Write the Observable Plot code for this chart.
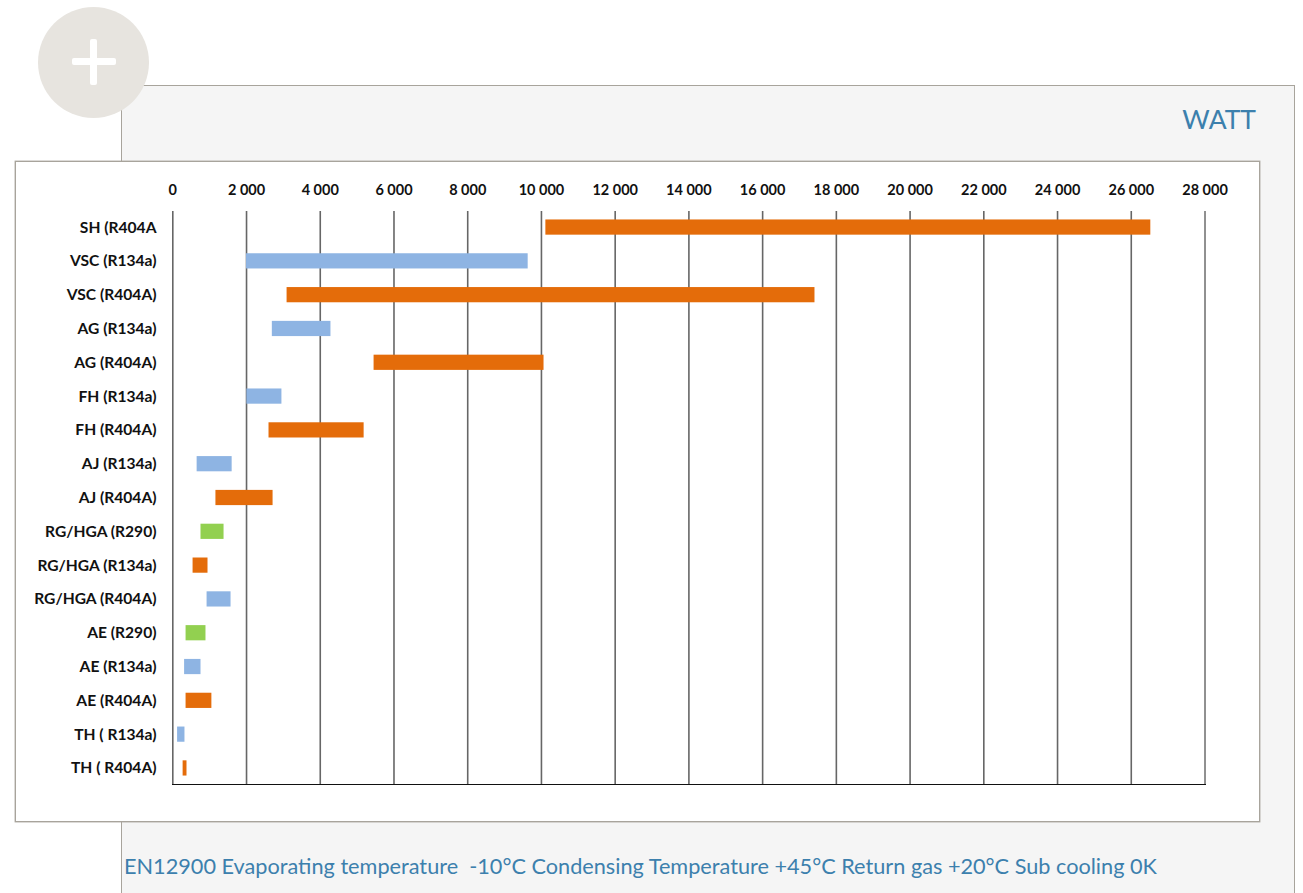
<!DOCTYPE html>
<html>
<head>
<meta charset="utf-8">
<script src="https://cdn.jsdelivr.net/npm/d3@7"></script>
<script src="https://cdn.jsdelivr.net/npm/@observablehq/plot@0.6"></script>
<style>
html,body{margin:0;padding:0;background:#fff;width:1303px;height:893px;overflow:hidden;font-family:Lato,sans-serif}
#page{position:relative;width:1303px;height:893px;overflow:hidden}
#panel{position:absolute;left:121px;top:85px;width:1172px;height:820px;background:#f5f5f5;border:1px solid #a8a49c;box-sizing:content-box}
#box{position:absolute;left:15px;top:161px;width:1243px;height:659px;background:#fff;border:1px solid #a8a49c;box-shadow:0 0 0 .4px #a8a49c}
#circle{position:absolute;left:38px;top:7px;width:111px;height:111px;border-radius:50%;background:#e7e4df}
#circle i{position:absolute;background:#fff;border-radius:2px}
#h{left:34px;top:51px;width:44px;height:7px}
#v{left:52px;top:32px;width:7px;height:46px}
#watt{position:absolute;right:47px;top:101px;font-size:26.5px;color:#3c80ad;line-height:36px}
#note{position:absolute;left:124px;top:851px;font-size:21.7px;color:#3c80ad;line-height:30px;white-space:pre}
#chart{position:absolute;left:0;top:0}
#chart svg{background:transparent;display:block}
</style>
</head>
<body>
<div id="page">
  <div id="panel"></div>
  <div id="box"></div>
  <div id="circle"><i id="h"></i><i id="v"></i></div>
  <div id="watt">WATT</div>
  <div id="note">EN12900 Evaporating temperature  -10°C Condensing Temperature +45°C Return gas +20°C Sub cooling 0K</div>
  <div id="chart"></div>
</div>
<script>
const categories = ["SH (R404A","VSC (R134a)","VSC (R404A)","AG (R134a)","AG (R404A)","FH (R134a)","FH (R404A)","AJ (R134a)","AJ (R404A)","RG/HGA (R290)","RG/HGA (R134a)","RG/HGA (R404A)","AE (R290)","AE (R134a)","AE (R404A)","TH ( R134a)","TH ( R404A)"];
const minWatt = [10120,2000,3100,2700,5460,2010,2610,660,1170,765,550,930,360,320,360,130,280];
const maxWatt = [26530,9640,17420,4290,10070,2960,5190,1610,2720,1390,955,1580,900,765,1060,330,385];
const colorGroup = ["g1","g2","g1","g2","g1","g2","g1","g2","g1","g3","g1","g2","g3","g2","g1","g2","g1"];
const xTicks = [0,2000,4000,6000,8000,10000,12000,14000,16000,18000,20000,22000,24000,26000,28000];
const groupNames = ["g1","g2","g3"];
const groupColors = ["#e46c0a","#8eb4e3","#92d050"];

const rows = categories.map((c,i)=>({c,a:minWatt[i],b:maxWatt[i],g:colorGroup[i]}));
const fmt = d => d3.format(",")(d).replace(/,/g," ");

const chart = Plot.plot({
  width:1303, height:893,
  marginLeft:172, marginRight:98, marginTop:211, marginBottom:109,
  style:{background:"transparent",fontFamily:"Lato, sans-serif"},
  x:{domain:[0,28000],range:[172.3,1204.5]},
  y:{domain:categories,padding:0.55,paddingOuter:0.25,align:0.5,round:false},
  color:{type:"ordinal",domain:groupNames,range:groupColors},
  marks:[
    Plot.ruleX(xTicks.slice(0,-1),{stroke:"#666",strokeWidth:1.6}),
    Plot.ruleX([28000],{stroke:"#222",strokeWidth:1}),
    Plot.frame({anchor:"bottom",stroke:"#111",strokeWidth:1}),
    Plot.barX(rows,{x1:"a",x2:"b",y:"c",fill:"g"}),
    Plot.axisX({anchor:"top",ticks:xTicks,tickFormat:fmt,tickSize:0,tickPadding:17,label:null,fontSize:14.5,fontWeight:700,fill:"#111"}),
    Plot.axisY({anchor:"left",tickSize:0,tickPadding:16,label:null,fontSize:15.6,fontWeight:700,fill:"#111"})
  ]
});
document.getElementById("chart").append(chart);
</script>
</body>
</html>
